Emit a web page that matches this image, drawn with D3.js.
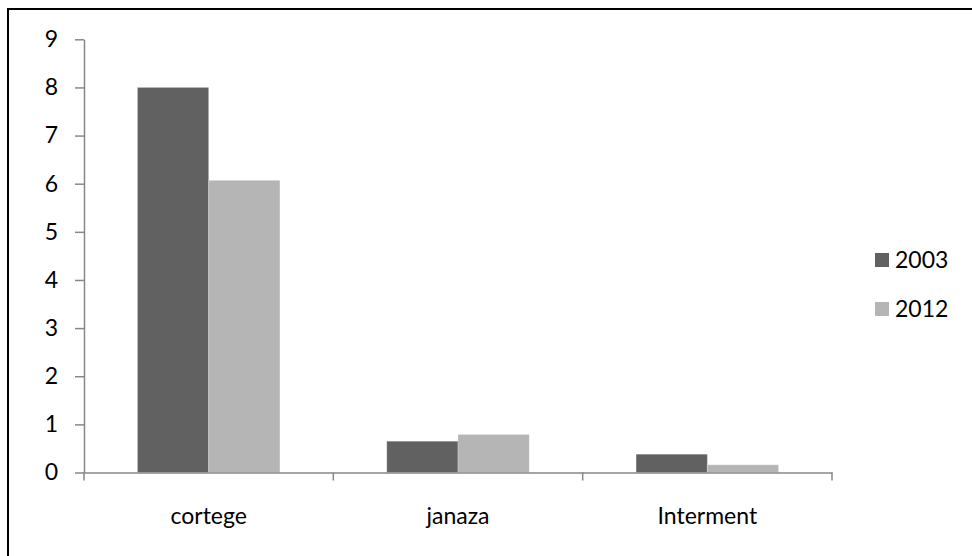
<!DOCTYPE html>
<html>
<head>
<meta charset="utf-8">
<script src="https://cdn.jsdelivr.net/npm/d3@7"></script>
<style>
  html, body { margin: 0; padding: 0; background: #fff; }
  svg { display: block; }
  text { font-family: Lato, "Open Sans", sans-serif; fill: #000; }
</style>
</head>
<body>
<svg id="chart" width="972" height="556"></svg>
<script>
// Chart data
const categories = ["cortege", "janaza", "Interment"];
const series = ["2003", "2012"];
const values2003 = [8.0, 0.65, 0.38];
const values2012 = [6.07, 0.79, 0.16];
const yTicks = [0, 1, 2, 3, 4, 5, 6, 7, 8, 9];
const colors = ["#616161", "#b4b5b4"];

const valuesBySeries = [values2003, values2012];
const svg = d3.select("#chart");
const axisColor = "#878787";
const fontSize = 23;

// Outer frame (runs past the right and bottom edges)
svg.append("rect")
  .attr("x", 8).attr("y", 9)
  .attr("width", 990).attr("height", 570)
  .attr("fill", "none").attr("stroke", "#000").attr("stroke-width", 2);

const plot = { left: 84, right: 832, top: 39.3, bottom: 472.5 };

const y = d3.scaleLinear().domain([0, 9]).range([plot.bottom, plot.top]);
const x0 = d3.scaleBand().domain(categories).range([plot.left, plot.right]).padding(0);
const x1 = d3.scaleBand().domain(series).range([0, x0.bandwidth()])
  .paddingInner(0).paddingOuter(0.75);

// Bars
const groups = svg.append("g").selectAll("g")
  .data(categories)
  .join("g")
  .attr("transform", d => `translate(${x0(d)},0)`);

groups.selectAll("rect")
  .data((c, i) => series.map((s, k) => ({ s, k, v: valuesBySeries[k][i] })))
  .join("rect")
  .attr("x", d => x1(d.s))
  .attr("width", x1.bandwidth())
  .attr("y", d => y(d.v))
  .attr("height", d => y(0) - y(d.v))
  .attr("fill", d => colors[d.k])
  .attr("stroke", "#ffffff")
  .attr("stroke-opacity", 0.25)
  .attr("stroke-width", 1);

// Y axis
const yAxis = svg.append("g")
  .attr("transform", `translate(${plot.left},0)`)
  .call(d3.axisLeft(y).tickValues(yTicks).tickFormat(d3.format("d"))
    .tickSize(9).tickSizeOuter(0).tickPadding(17));
yAxis.select(".domain").attr("stroke", axisColor).attr("stroke-width", 1.5);
yAxis.selectAll(".tick line").attr("stroke", axisColor).attr("stroke-width", 1.5);
yAxis.selectAll(".tick text")
  .attr("font-size", fontSize).attr("fill", "#000")
  .style("font-family", "Lato, 'Open Sans', sans-serif");

// X axis: category labels
const xAxis = svg.append("g")
  .attr("transform", `translate(0,${plot.bottom})`)
  .call(d3.axisBottom(x0).tickSize(0).tickSizeOuter(0).tickPadding(35));
xAxis.select(".domain").attr("stroke", axisColor).attr("stroke-width", 1.5);
xAxis.selectAll(".tick text")
  .attr("font-size", fontSize).attr("fill", "#000")
  .style("font-family", "Lato, 'Open Sans', sans-serif");

// X axis: tick marks at category boundaries
const boundaries = categories.map(c => x0(c)).concat([x0(categories[categories.length - 1]) + x0.bandwidth()]);
svg.append("g").selectAll("line")
  .data(boundaries)
  .join("line")
  .attr("x1", d => d).attr("x2", d => d)
  .attr("y1", plot.bottom).attr("y2", plot.bottom + 8)
  .attr("stroke", axisColor).attr("stroke-width", 1.5);

// Legend
const legend = svg.append("g").selectAll("g")
  .data(series)
  .join("g")
  .attr("transform", (d, i) => `translate(875,${253 + i * 49})`);
legend.append("rect")
  .attr("width", 14).attr("height", 14)
  .attr("fill", (d, i) => colors[i]);
legend.append("text")
  .attr("x", 20).attr("y", 15)
  .attr("font-size", fontSize)
  .text(d => d);
</script>
</body>
</html>
